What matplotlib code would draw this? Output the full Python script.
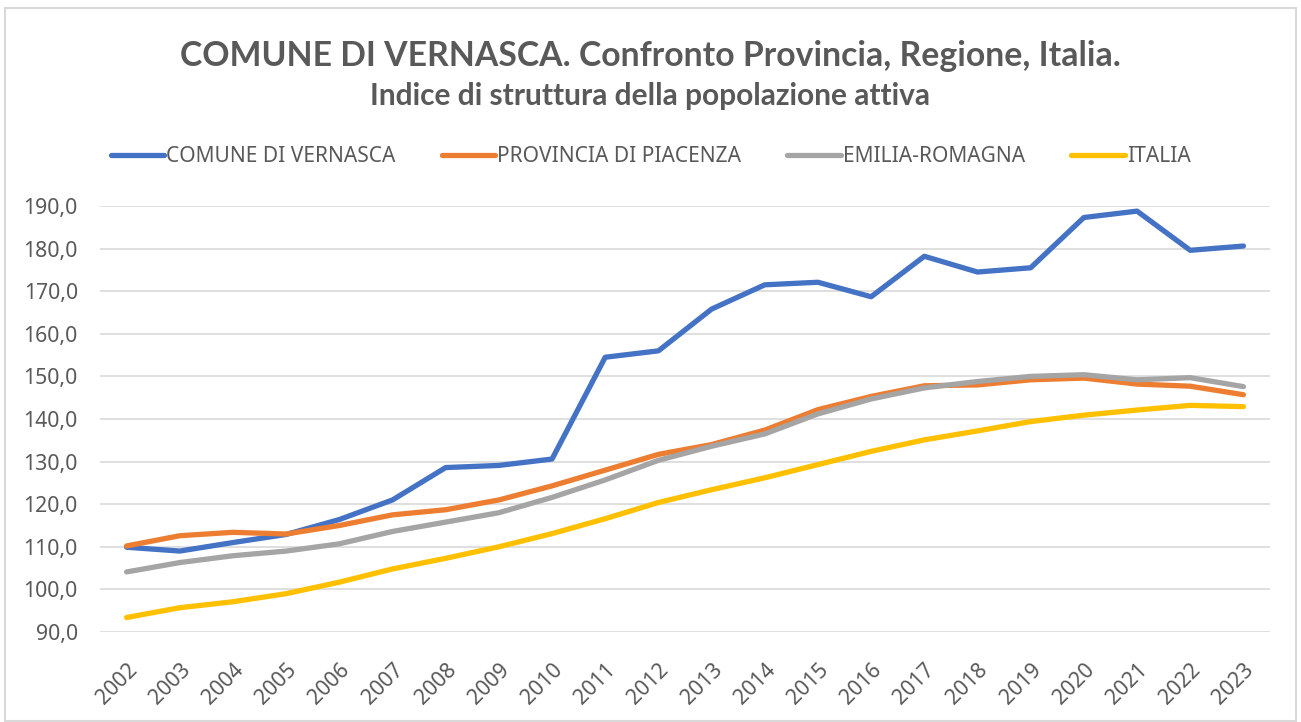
import matplotlib
matplotlib.use("Agg")
import matplotlib.pyplot as plt
from matplotlib.patches import Rectangle
from matplotlib.ticker import FuncFormatter

years = [str(y) for y in range(2002, 2024)]

vernasca = [109.9, 109.0, 111.0, 112.9, 116.4, 121.0, 128.6, 129.1, 130.6, 154.5, 156.0,
            165.8, 171.5, 172.1, 168.7, 178.2, 174.5, 175.5, 187.3, 188.8, 179.6, 180.6]
piacenza = [110.2, 112.6, 113.4, 113.0, 115.0, 117.5, 118.7, 121.0, 124.3, 128.0, 131.7,
            134.0, 137.4, 142.2, 145.3, 147.8, 148.0, 149.2, 149.6, 148.2, 147.7, 145.7]
emilia = [104.1, 106.3, 107.9, 109.0, 110.7, 113.6, 115.8, 118.0, 121.6, 125.7, 130.3,
          133.6, 136.5, 141.2, 144.7, 147.3, 148.8, 150.0, 150.4, 149.2, 149.7, 147.6]
italia = [93.4, 95.7, 97.1, 99.0, 101.7, 104.8, 107.3, 110.0, 113.1, 116.6, 120.4,
          123.4, 126.2, 129.3, 132.4, 135.1, 137.2, 139.4, 140.9, 142.1, 143.2, 142.9]

series = [
    ("COMUNE DI VERNASCA", vernasca, "#4472C4"),
    ("PROVINCIA DI PIACENZA", piacenza, "#ED7D31"),
    ("EMILIA-ROMAGNA", emilia, "#A5A5A5"),
    ("ITALIA", italia, "#FFC000"),
]

text_col = "#595959"
tick_font = ["Noto Sans", "DejaVu Sans"]
title_font = ["Lato", "DejaVu Sans"]

fig = plt.figure(figsize=(13.01, 7.22), dpi=100)
ax = fig.add_axes([100 / 1301, 1 - 632 / 722, 1170 / 1301, 426 / 722])

x = list(range(len(years)))
for name, vals, col in series:
    ax.plot(x, vals, color=col, lw=3.8, label=name, solid_capstyle="round",
            solid_joinstyle="round")

ax.set_xlim(-0.5, len(years) - 0.5)
ax.set_ylim(90, 190)
ax.set_yticks(range(90, 191, 10))
ax.yaxis.set_major_formatter(FuncFormatter(lambda v, p: f"{v:.1f}".replace(".", ",")))
ax.set_xticks(x)
ax.set_xticklabels(years, rotation=45, ha="right", rotation_mode="anchor")
ax.grid(axis="y", color="#D9D9D9", lw=1.2)
ax.set_axisbelow(True)
for s in ax.spines.values():
    s.set_visible(False)
ax.tick_params(length=0, labelcolor=text_col, labelsize=15.3)
ax.tick_params(axis="y", pad=16)
ax.tick_params(axis="x", pad=20)
for lab in ax.get_xticklabels() + ax.get_yticklabels():
    lab.set_family(tick_font)

fig.text(0.5, 1 - 56 / 722, "COMUNE DI VERNASCA. Confronto Provincia, Regione, Italia.",
         ha="center", va="center", fontsize=24.3, fontweight="bold", color=text_col,
         family=title_font)
fig.text(0.5, 1 - 96 / 722, "Indice di struttura della popolazione attiva",
         ha="center", va="center", fontsize=21.5, fontweight="bold", color=text_col,
         family=title_font)

fig.legend(loc="center", bbox_to_anchor=(0.5, 1 - 157 / 722), ncol=4, frameon=False,
           prop={"family": tick_font, "size": 15.1}, labelcolor=text_col,
           handlelength=2.55, handletextpad=0.1, columnspacing=2.2)

fig.patches.append(Rectangle((5 / 1301, 1 / 722), 1291 / 1301, 713 / 722,
                             transform=fig.transFigure, fill=False,
                             edgecolor="#D9D9D9", lw=1.5))

fig.savefig("out.png", dpi=100)
